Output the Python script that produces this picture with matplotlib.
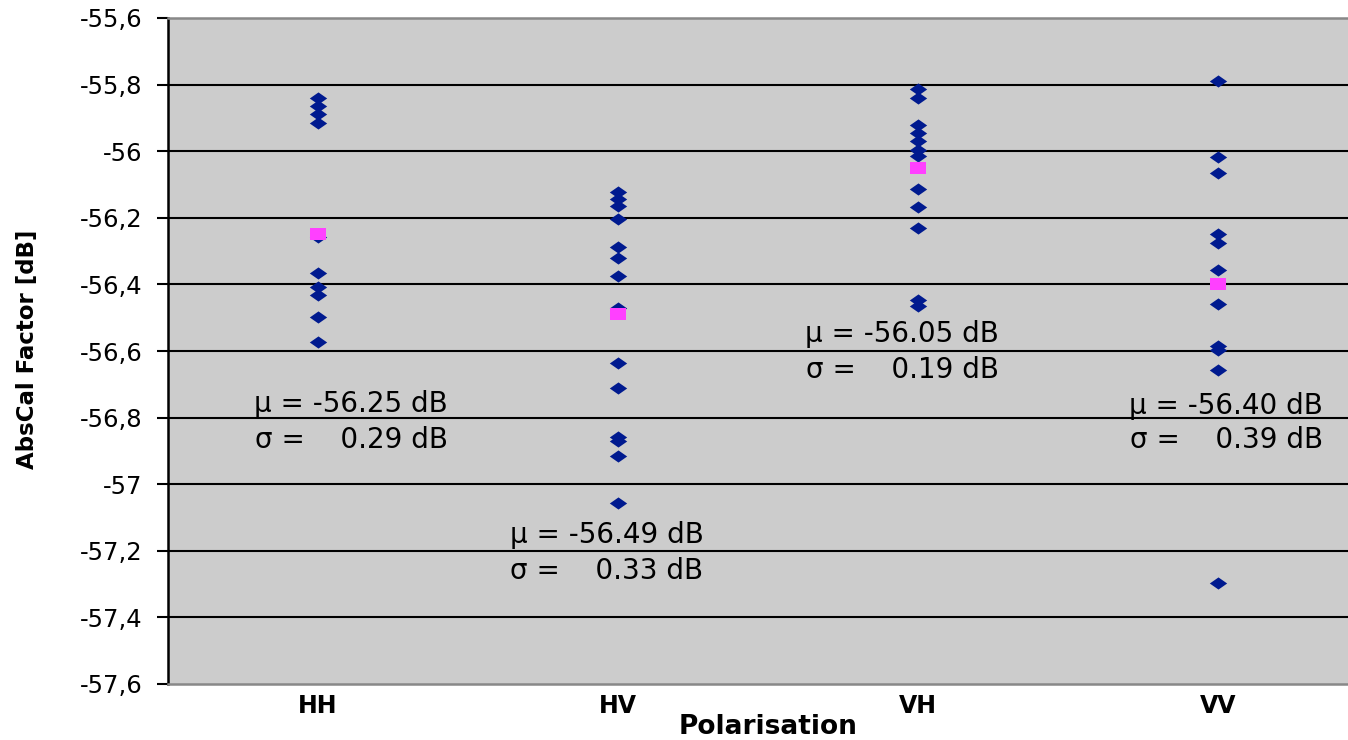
import matplotlib
matplotlib.use("Agg")
import matplotlib.pyplot as plt
from matplotlib import font_manager
from matplotlib.path import Path
import numpy as np

# ---------------- data ----------------
categories = ["HH", "HV", "VH", "VV"]
hh = [-55.840, -55.864, -55.888, -55.915, -56.258, -56.365, -56.407, -56.432, -56.499, -56.573]
hv = [-56.123, -56.144, -56.165, -56.204, -56.288, -56.321, -56.375, -56.471, -56.636, -56.711,
      -56.858, -56.870, -56.915, -57.056]
vh = [-55.813, -55.840, -55.921, -55.945, -55.969, -55.996, -56.014, -56.114, -56.168, -56.231,
      -56.447, -56.465]
vv = [-55.790, -56.018, -56.066, -56.250, -56.276, -56.357, -56.460, -56.585, -56.597, -56.657,
      -57.297]
means = [-56.25, -56.49, -56.05, -56.40]
stds = [0.29, 0.33, 0.19, 0.39]
ytick_values = [-55.6, -55.8, -56.0, -56.2, -56.4, -56.6, -56.8, -57.0, -57.2, -57.4, -57.6]
ytick_labels = ["-55,6", "-55,8", "-56", "-56,2", "-56,4", "-56,6", "-56,8", "-57", "-57,2", "-57,4", "-57,6"]
y_label = "AbsCal Factor [dB]"
x_label = "Polarisation"

# annotation layout (centre offset from category centre, and y of the two lines)
ann_dx = [0.110, -0.037, -0.053, 0.027]
ann_y_mu = [-56.759, -57.153, -56.549, -56.765]
ann_y_sigma = [-56.867, -57.261, -56.657, -56.867]

# ---------------- style ----------------
W, H = 1348, 740
fig = plt.figure(figsize=(W / 100, H / 100), dpi=100)
fig.patch.set_facecolor("white")

left_px, right_px, top_px, bottom_px = 168, 1368, 18, 684
ax = fig.add_axes([left_px / W, 1 - bottom_px / H, (right_px - left_px) / W, (bottom_px - top_px) / H])
ax.set_facecolor("#CCCCCC")

ax.set_xlim(0.5, 4.5)
ax.set_ylim(-57.6, -55.6)

diamond = Path([(-1, 0), (0, 0.7), (1, 0), (0, -0.7), (-1, 0)],
               [Path.MOVETO, Path.LINETO, Path.LINETO, Path.LINETO, Path.CLOSEPOLY])
rect = Path([(-1, -0.8), (1, -0.8), (1, 0.8), (-1, 0.8), (-1, -0.8)],
            [Path.MOVETO, Path.LINETO, Path.LINETO, Path.LINETO, Path.CLOSEPOLY])

series = [hh, hv, vh, vv]
for i, vals in enumerate(series):
    xs = np.full(len(vals), i + 1)
    ax.plot(xs, vals, linestyle="none", marker=diamond, markersize=12.5,
            color="#001A8F", markeredgewidth=0, zorder=3)
ax.plot(np.arange(1, 5), means, linestyle="none", marker=rect, markersize=11,
        color="#FF40FF", markeredgewidth=0, zorder=4)

# grid lines
for v in ytick_values[1:-1]:
    ax.axhline(v, color="black", linewidth=1.5, zorder=1)

ax.set_yticks(ytick_values)
ax.set_yticklabels(ytick_labels, fontsize=17.5, family="DejaVu Sans")
ax.tick_params(axis="y", direction="out", length=8, width=1.5, pad=10.5, colors="black")
ax.set_xticks(np.arange(1, 5))
ax.set_xticklabels(categories, fontsize=17, fontweight="bold", family="DejaVu Sans")
ax.tick_params(axis="x", length=0, pad=7)

ax.spines["right"].set_visible(False)
ax.spines["left"].set_color("black")
ax.spines["left"].set_linewidth(1.8)
ax.spines["top"].set_color("#888888")
ax.spines["top"].set_linewidth(1.8)
ax.spines["bottom"].set_color("#888888")
ax.spines["bottom"].set_linewidth(1.8)

# annotations
for i in range(4):
    c = i + 1 + ann_dx[i]
    ax.text(c, ann_y_mu[i], f"\u03bc = {means[i]:.2f} dB", fontsize=20, family="DejaVu Sans",
            ha="center", va="center", zorder=5)
    ax.text(c, ann_y_sigma[i], f"\u03c3 =    {stds[i]:.2f} dB", fontsize=20, family="DejaVu Sans",
            ha="center", va="center", zorder=5)

# axis titles
narrow_ok = False
try:
    fp = font_manager.findfont(font_manager.FontProperties(family="Liberation Sans Narrow", weight="bold"),
                               fallback_to_default=False)
    narrow_ok = "Narrow" in fp
except Exception:
    narrow_ok = False

if narrow_ok:
    fig.text(28 / W, 1 - 349 / H, y_label, rotation=90, ha="center", va="center",
             fontsize=23, fontweight="bold", family=["Liberation Sans Narrow", "DejaVu Sans"])
else:
    fig.text(28 / W, 1 - 349 / H, y_label, rotation=90, ha="center", va="center",
             fontsize=16.5, fontweight="bold", family="DejaVu Sans")

fig.text(768 / W, 1 - 727 / H, x_label, ha="center", va="center",
         fontsize=19, fontweight="bold", family="DejaVu Sans")

fig.savefig("out.png", dpi=100)
